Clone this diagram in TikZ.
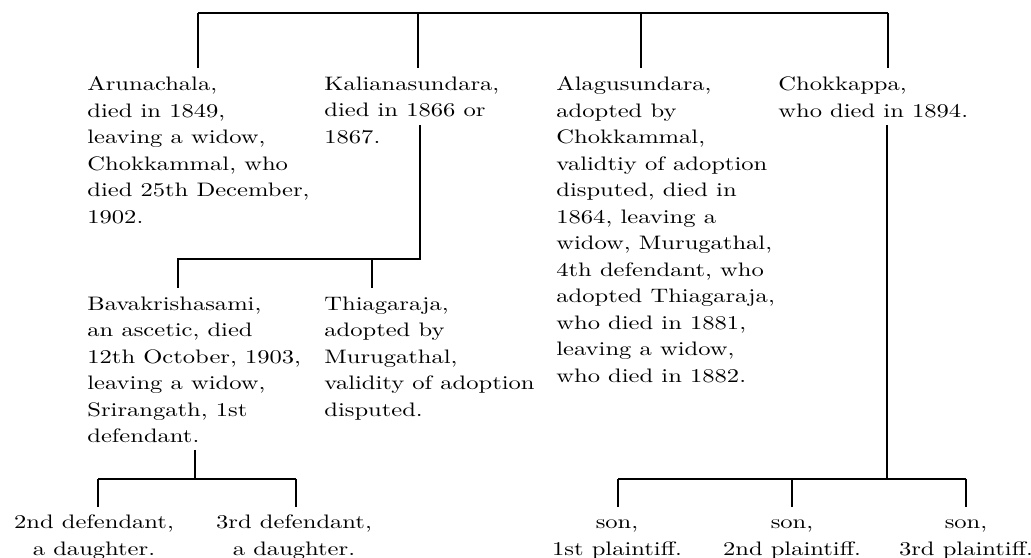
\documentclass[tikz,border=0pt]{standalone}
\usepackage{fontspec}
\setmainfont{lmroman10-regular.otf}[FakeStretch=1.26]
\tikzstyle{tree} = [line width=0.8pt]
\tikzstyle{person} = [anchor=north west, inner sep=0pt, align=left, font=\fontsize{10}{13.6}\selectfont]
\tikzstyle{issue} = [anchor=north, inner sep=0pt, align=center, font=\fontsize{10}{13.6}\selectfont]
\begin{document}
\begin{tikzpicture}[x=0.513pt, y=-0.513pt]
\useasboundingbox (0,0) rectangle (1031,558);
% first generation
\coordinate (topl) at (198,13);
\coordinate (topk) at (418,13);
\coordinate (topa) at (641,13);
\coordinate (topr) at (888,13);
\coordinate (arunin) at (198,68);
\coordinate (kaliain) at (418,68);
\coordinate (alaguin) at (641,68);
\coordinate (chokkin) at (888,68);
\node (arun) [person] at (87,76.5) {Arunachala,\\died in 1849,\\leaving a widow,\\Chokkammal, who\\died 25th December,\\1902.};
\node (kalia) [person] at (324,76.5) {Kalianasundara,\\died in 1866 or\\1867.};
\node (alagu) [person] at (556,76.5) {Alagusundara,\\adopted by\\Chokkammal,\\validtiy of adoption\\disputed, died in\\1864, leaving a\\widow, Murugathal,\\4th defendant, who\\adopted Thiagaraja,\\who died in 1881,\\leaving a widow,\\who died in 1882.};
\node (chokk) [person] at (778,76.5) {Chokkappa,\\who died in 1894.};
\draw [tree] (topl) -- (topr);
\draw [tree] (topl) -- (arunin);
\draw [tree] (topk) -- (kaliain);
\draw [tree] (topa) -- (alaguin);
\draw [tree] (topr) -- (chokkin);
% Kalianasundara's sons
\coordinate (kaliaout) at (420,125);
\coordinate (kbarr) at (420,259);
\coordinate (kbarl) at (178,259);
\coordinate (kbarm) at (372,259);
\coordinate (bavain) at (178,288);
\coordinate (thiagin) at (372,288);
\node (bava) [person] at (87,296.5) {Bavakrishasami,\\an ascetic, died\\12th October, 1903,\\leaving a widow,\\Srirangath, 1st\\defendant.};
\node (thiag) [person] at (324,296.5) {Thiagaraja,\\adopted by\\Murugathal,\\validity of adoption\\disputed.};
\draw [tree] (kaliaout) -- (kbarr) -- (kbarl) -- (bavain);
\draw [tree] (kbarm) -- (thiagin);
% daughters
\coordinate (bavaout) at (195,450);
\coordinate (bbarm) at (195,479);
\coordinate (bbarl) at (98,479);
\coordinate (bbarr) at (296,479);
\coordinate (dau1in) at (98,507);
\coordinate (dau2in) at (296,507);
\node (dau1) [issue] at (94,514.5) {2nd defendant,\\a daughter.};
\node (dau2) [issue] at (294,514.5) {3rd defendant,\\a daughter.};
\draw [tree] (bavaout) -- (bbarm);
\draw [tree] (bbarl) -- (bbarr);
\draw [tree] (bbarl) -- (dau1in);
\draw [tree] (bbarr) -- (dau2in);
% Chokkappa's sons
\coordinate (chokkout) at (887,125);
\coordinate (cbarm) at (887,479);
\coordinate (cbarl) at (618,479);
\coordinate (cbarc) at (792,479);
\coordinate (cbarr) at (966,479);
\coordinate (son1in) at (618,507);
\coordinate (son2in) at (792,507);
\coordinate (son3in) at (966,507);
\node (son1) [issue] at (617,519.6) {son,\\1st plaintiff.};
\node (son2) [issue] at (792,519.6) {son,\\2nd plaintiff.};
\node (son3) [issue] at (966,519.6) {son,\\3rd plaintiff.};
\draw [tree] (chokkout) -- (cbarm);
\draw [tree] (cbarl) -- (cbarr);
\draw [tree] (cbarl) -- (son1in);
\draw [tree] (cbarc) -- (son2in);
\draw [tree] (cbarr) -- (son3in);
\end{tikzpicture}
\end{document}
